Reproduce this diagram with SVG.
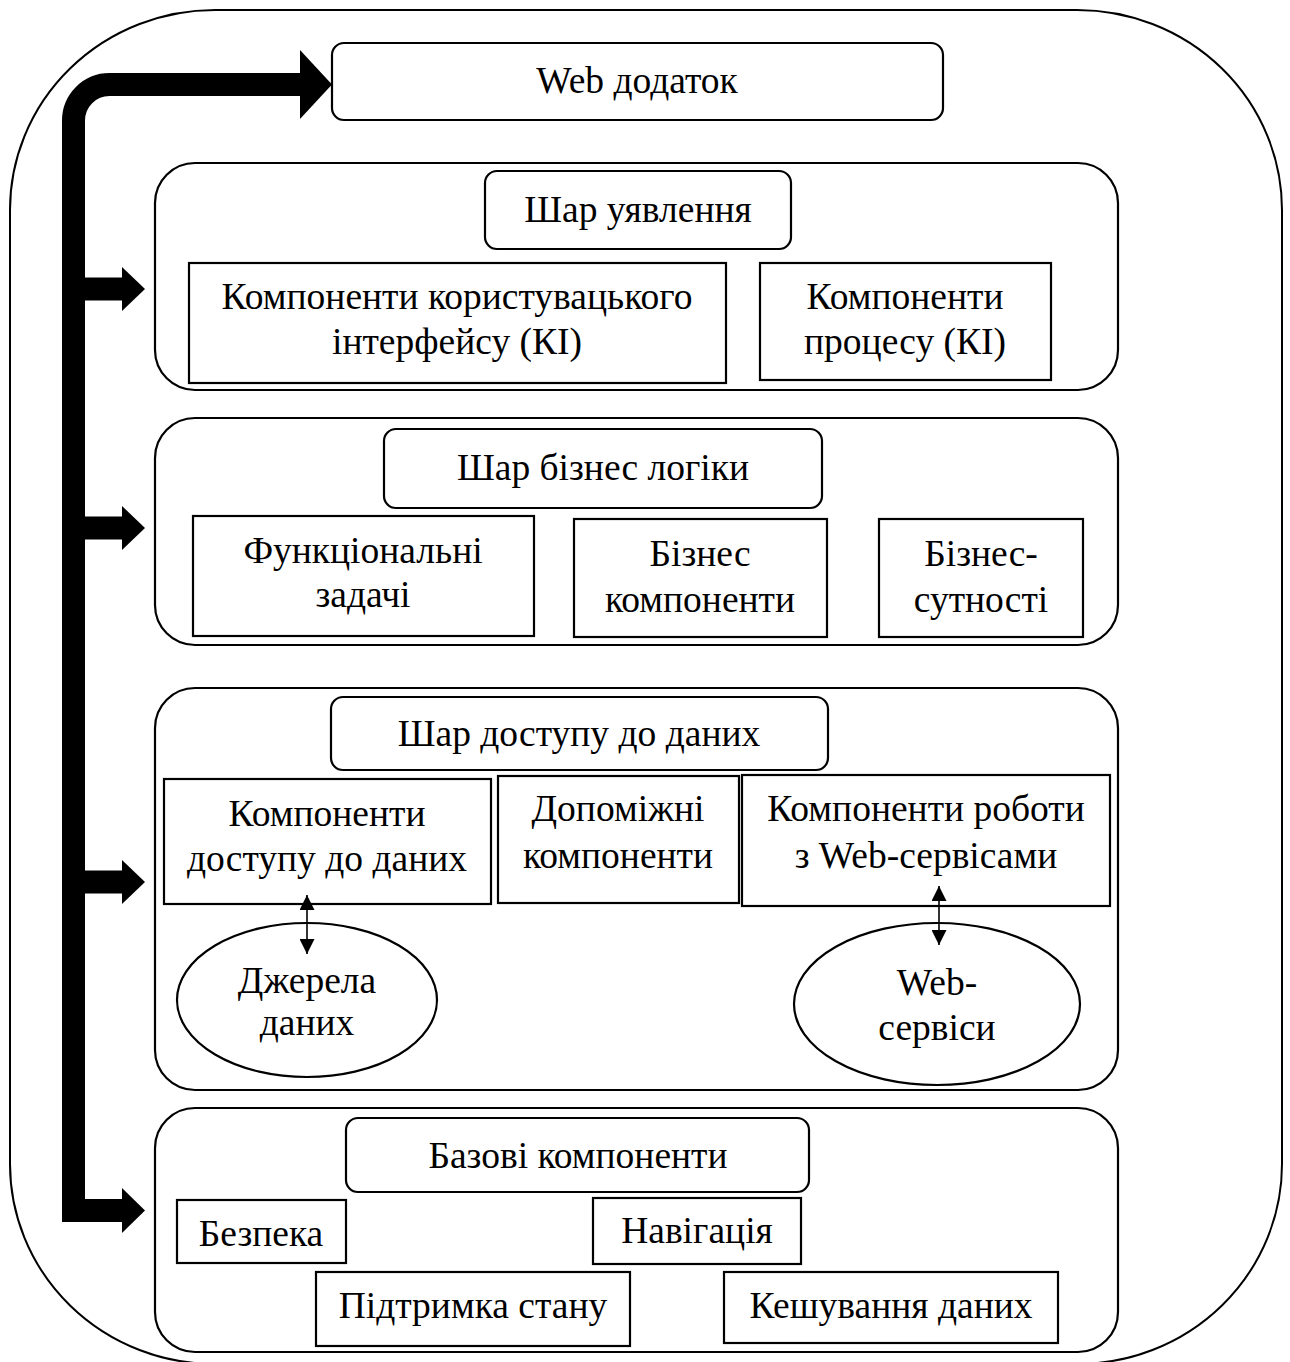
<svg xmlns="http://www.w3.org/2000/svg" width="1290" height="1362" viewBox="0 0 1290 1362">
<style>
.b{fill:#fff;stroke:#000;stroke-width:2.2}
.t{font-family:"Liberation Serif","Times New Roman",serif;font-size:37.5px;fill:#000;text-anchor:middle}
.thick{fill:none;stroke:#000;stroke-width:23;stroke-linejoin:miter}
.thin{fill:none;stroke:#000;stroke-width:1.6}
</style>
<defs>
<marker id="ah" viewBox="0 0 10 10" refX="10" refY="5" markerWidth="15" markerHeight="15" markerUnits="userSpaceOnUse" orient="auto-start-reverse">
<path d="M0,0 L10,5 L0,10 Z" fill="#000"/>
</marker>
</defs>
<rect x="10" y="10" width="1272" height="1354" rx="205" ry="200" fill="#fff" stroke="#000" stroke-width="2"/>

<g id="web-app"><rect class="b" x="332" y="43" width="611" height="77" rx="12"/><text class="t" x="637" y="93">Web додаток</text></g>

<g id="layer-presentation">
<rect class="b" x="155" y="163" width="963" height="227" rx="40"/>
<g id="presentation-title"><rect class="b" x="485" y="171" width="306" height="78" rx="12"/><text class="t" x="638" y="222">Шар уявлення</text></g>
<g id="ui-components"><rect class="b" x="189" y="263" width="537" height="120"/><text class="t" x="457" y="309">Компоненти користувацького</text><text class="t" x="457" y="354">інтерфейсу (КІ)</text></g>
<g id="process-components"><rect class="b" x="760" y="263" width="291" height="117"/><text class="t" x="905" y="309">Компоненти</text><text class="t" x="905" y="354">процесу (КІ)</text></g>
</g>

<g id="layer-business">
<rect class="b" x="155" y="418" width="963" height="227" rx="40"/>
<g id="business-title"><rect class="b" x="384" y="429" width="438" height="79" rx="12"/><text class="t" x="603" y="480">Шар бізнес логіки</text></g>
<g id="functional-tasks"><rect class="b" x="193" y="516" width="341" height="120"/><text class="t" x="363" y="563">Функціональні</text><text class="t" x="363" y="607">задачі</text></g>
<g id="business-components"><rect class="b" x="574" y="519" width="253" height="118"/><text class="t" x="700" y="566">Бізнес</text><text class="t" x="700" y="612">компоненти</text></g>
<g id="business-entities"><rect class="b" x="879" y="519" width="204" height="118"/><text class="t" x="981" y="566">Бізнес-</text><text class="t" x="981" y="612">сутності</text></g>
</g>

<g id="layer-data">
<rect class="b" x="155" y="688" width="963" height="402" rx="40"/>
<g id="data-title"><rect class="b" x="331" y="697" width="497" height="73" rx="12"/><text class="t" x="579" y="746">Шар доступу до даних</text></g>
<g id="data-access-components"><rect class="b" x="164" y="779" width="327" height="125"/><text class="t" x="327" y="826">Компоненти</text><text class="t" x="327" y="871">доступу до даних</text></g>
<g id="helper-components"><rect class="b" x="498" y="776" width="241" height="127"/><text class="t" x="618" y="821">Допоміжні</text><text class="t" x="618" y="868">компоненти</text></g>
<g id="web-service-components"><rect class="b" x="742" y="775" width="368" height="131"/><text class="t" x="926" y="821">Компоненти роботи</text><text class="t" x="926" y="868">з Web-сервісами</text></g>
<g id="data-sources"><ellipse class="b" cx="307" cy="1000" rx="130" ry="77"/><text class="t" x="307" y="993">Джерела</text><text class="t" x="307" y="1035">даних</text></g>
<g id="web-services"><ellipse class="b" cx="937" cy="1004" rx="143" ry="81"/><text class="t" x="937" y="995">Web-</text><text class="t" x="937" y="1040">сервіси</text></g>
</g>

<g id="layer-base">
<rect class="b" x="155" y="1108" width="963" height="244" rx="40"/>
<g id="base-title"><rect class="b" x="346" y="1118" width="463" height="74" rx="12"/><text class="t" x="578" y="1168">Базові компоненти</text></g>
<g id="security"><rect class="b" x="177" y="1200" width="169" height="63"/><text class="t" x="261" y="1246">Безпека</text></g>
<g id="navigation"><rect class="b" x="593" y="1198" width="208" height="66"/><text class="t" x="697" y="1243">Навігація</text></g>
<g id="state"><rect class="b" x="316" y="1272" width="314" height="74"/><text class="t" x="473" y="1318">Підтримка стану</text></g>
<g id="caching"><rect class="b" x="724" y="1272" width="334" height="71"/><text class="t" x="891" y="1318">Кешування даних</text></g>
</g>

<g id="connectors">
<path class="thick" d="M300,84.5 H109.5 A36,36 0 0 0 73.5,120.5 V1210.5 H122"/>
<path class="thick" d="M73.5,289 H122 M73.5,528 H122 M73.5,882 H122"/>
<polygon points="300,50 332,84.5 300,119" fill="#000"/>
<polygon points="122,267 145,289 122,311" fill="#000"/>
<polygon points="122,506 145,528 122,550" fill="#000"/>
<polygon points="122,860 145,882 122,904" fill="#000"/>
<polygon points="122,1188 145,1210.5 122,1233" fill="#000"/>
<line class="thin" x1="307" y1="895" x2="307" y2="954" marker-start="url(#ah)" marker-end="url(#ah)"/>
<line class="thin" x1="939" y1="886" x2="939" y2="945" marker-start="url(#ah)" marker-end="url(#ah)"/>
</g>
</svg>
